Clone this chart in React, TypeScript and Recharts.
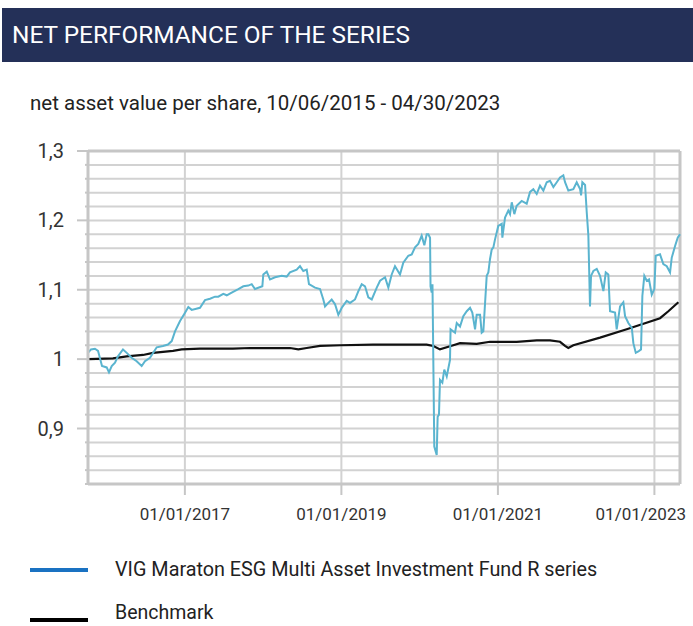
import { LineChart, Line, XAxis, YAxis, CartesianGrid, ReferenceLine } from 'recharts';

// fund NAV per share, x in decimal years
const fundYears = [
  2015.762, 2015.8, 2015.851, 2015.89, 2015.941, 2016.001, 2016.03, 2016.065, 2016.107, 2016.145,
  2016.209, 2016.257, 2016.32, 2016.384, 2016.448, 2016.49, 2016.554, 2016.64, 2016.72, 2016.784,
  2016.832, 2016.874, 2016.938, 2017.002, 2017.044, 2017.087, 2017.193, 2017.257, 2017.321, 2017.385,
  2017.427, 2017.491, 2017.535, 2017.598, 2017.683, 2017.747, 2017.811, 2017.854, 2017.896, 2017.99,
  2018.002, 2018.046, 2018.088, 2018.152, 2018.237, 2018.301, 2018.343, 2018.429, 2018.471, 2018.513,
  2018.557, 2018.586, 2018.663, 2018.727, 2018.769, 2018.791, 2018.833, 2018.876, 2018.919, 2018.961,
  2019.005, 2019.068, 2019.11, 2019.174, 2019.217, 2019.26, 2019.302, 2019.344, 2019.388, 2019.452,
  2019.494, 2019.558, 2019.6, 2019.643, 2019.685, 2019.749, 2019.791, 2019.855, 2019.899, 2019.941,
  2019.983, 2020.026, 2020.06, 2020.09, 2020.111, 2020.133, 2020.139, 2020.154, 2020.164, 2020.187,
  2020.218, 2020.23, 2020.247, 2020.26, 2020.29, 2020.315, 2020.346, 2020.388, 2020.395, 2020.452,
  2020.474, 2020.516, 2020.558, 2020.602, 2020.644, 2020.673, 2020.708, 2020.729, 2020.772, 2020.793,
  2020.814, 2020.835, 2020.857, 2020.878, 2020.899, 2020.921, 2020.942, 2020.964, 2021.005, 2021.049,
  2021.057, 2021.091, 2021.133, 2021.155, 2021.177, 2021.21, 2021.24, 2021.304, 2021.368, 2021.411,
  2021.453, 2021.496, 2021.538, 2021.581, 2021.624, 2021.666, 2021.709, 2021.752, 2021.794, 2021.836,
  2021.858, 2021.9, 2021.964, 2022.007, 2022.05, 2022.063, 2022.079, 2022.114, 2022.135, 2022.156,
  2022.177, 2022.19, 2022.22, 2022.263, 2022.305, 2022.348, 2022.378, 2022.411, 2022.433, 2022.497,
  2022.518, 2022.561, 2022.603, 2022.625, 2022.667, 2022.711, 2022.731, 2022.762, 2022.795, 2022.829,
  2022.846, 2022.871, 2022.902, 2022.931, 2022.966, 2022.999, 2023.017, 2023.072, 2023.114, 2023.158,
  2023.2, 2023.221, 2023.264, 2023.298, 2023.327,
];
const fundValues = [
  1.009, 1.014, 1.015, 1.012, 0.99, 0.988, 0.981, 0.99, 0.995, 1.004,
  1.014, 1.009, 1.002, 0.997, 0.99, 0.997, 1.002, 1.017, 1.019, 1.021,
  1.026, 1.04, 1.055, 1.067, 1.075, 1.071, 1.074, 1.085, 1.087, 1.09,
  1.09, 1.094, 1.092, 1.096, 1.101, 1.105, 1.106, 1.108, 1.101, 1.105,
  1.122, 1.126, 1.115, 1.118, 1.12, 1.119, 1.125, 1.129, 1.134, 1.127,
  1.129, 1.108, 1.103, 1.101, 1.086, 1.076, 1.081, 1.086, 1.079, 1.064,
  1.074, 1.084, 1.081, 1.086, 1.098, 1.108, 1.105, 1.089, 1.086, 1.103,
  1.113, 1.118, 1.103, 1.122, 1.134, 1.122, 1.139, 1.149, 1.151, 1.161,
  1.166, 1.178, 1.164, 1.18, 1.18, 1.175, 1.105, 1.096, 1.108, 0.874,
  0.862, 0.917, 0.92, 0.97, 0.966, 0.985, 0.975, 0.999, 1.043, 1.038,
  1.052, 1.047, 1.062, 1.069, 1.074, 1.067, 1.043, 1.064, 1.064, 1.038,
  1.04, 1.079, 1.12, 1.125, 1.144, 1.158, 1.161, 1.173, 1.192, 1.195,
  1.175, 1.204, 1.214, 1.209, 1.226, 1.209, 1.221, 1.228, 1.224, 1.241,
  1.245, 1.238, 1.25, 1.243, 1.255, 1.257, 1.248, 1.255, 1.262, 1.265,
  1.255, 1.243, 1.245, 1.255, 1.245, 1.236, 1.255, 1.251, 1.212, 1.178,
  1.076, 1.12, 1.127, 1.13, 1.12, 1.098, 1.125, 1.122, 1.069, 1.067,
  1.043, 1.076, 1.082, 1.062, 1.052, 1.045, 1.023, 1.009, 1.011, 1.014,
  1.091, 1.12, 1.113, 1.115, 1.093, 1.101, 1.149, 1.151, 1.137, 1.134,
  1.125, 1.146, 1.163, 1.175, 1.18,
];

const benchYears = [
  2015.762, 2016.081, 2016.257, 2016.465, 2016.593, 2016.848, 2016.959, 2017.193, 2017.615, 2017.832,
  2018.343, 2018.45, 2018.557, 2018.727, 2018.983, 2019.404, 2020.09, 2020.175, 2020.26, 2020.43,
  2020.516, 2020.729, 2020.899, 2021.24, 2021.496, 2021.666, 2021.794, 2021.858, 2021.9, 2021.964,
  2022.305, 2022.646, 2023.072, 2023.178, 2023.306,
];
const benchValues = [
  1.0, 1.001, 1.004, 1.006, 1.009, 1.012, 1.014, 1.015, 1.015, 1.016,
  1.016, 1.014, 1.016, 1.019, 1.02, 1.021, 1.021, 1.019, 1.014, 1.02,
  1.023, 1.022, 1.025, 1.025, 1.027, 1.027, 1.025, 1.019, 1.016, 1.02,
  1.031, 1.043, 1.059, 1.069, 1.082,
];

const xTicks = [2017, 2019, 2021, 2023];
const xTickLabels = ['01/01/2017', '01/01/2019', '01/01/2021', '01/01/2023'];
const yTicks = [
  0.82, 0.84, 0.86, 0.88, 0.9, 0.92, 0.94, 0.96, 0.98, 1.0, 1.02, 1.04, 1.06,
  1.08, 1.1, 1.12, 1.14, 1.16, 1.18, 1.2, 1.22, 1.24, 1.26, 1.28, 1.3,
];
const yMajorTicks = [0.9, 1.0, 1.1, 1.2, 1.3];
const yMajorLabels = ['0,9', '1', '1,1', '1,2', '1,3'];

const X_MIN = 2015.762;
const X_MAX = 2023.327;
const FONT = 'Roboto, "Noto Sans", sans-serif';
const GRID = '#d2d2d2';
const AXIS = '#c6c6c6';

const fundData = fundYears.map((x, i) => ({ x, v: fundValues[i] }));
const benchData = benchYears.map((x, i) => ({ x, v: benchValues[i] }));

const YTick = (props: any) => {
  const { y, payload } = props;
  const idx = yMajorTicks.findIndex((t) => Math.abs(t - payload.value) < 1e-6);
  const major = idx >= 0;
  return (
    <g>
      <line x1={major ? 77 : 85} x2={88} y1={y} y2={y} stroke={AXIS} strokeWidth={2} />
      {major && (
        <text x={64} y={y} dy="0.35em" textAnchor="end" fontSize={20} fill="#333" fontFamily={FONT}>
          {yMajorLabels[idx]}
        </text>
      )}
    </g>
  );
};

// last label is kept inside the chart's right edge
const XTick = (props: any) => {
  const { x, y, payload } = props;
  const idx = xTicks.indexOf(payload.value);
  const last = idx === xTicks.length - 1;
  return (
    <text
      x={last ? 686 : x}
      y={y}
      dy="0.71em"
      textAnchor={last ? 'end' : 'middle'}
      fontSize={17}
      fill="#333"
      fontFamily={FONT}
    >
      {xTickLabels[idx]}
    </text>
  );
};

export default function App() {
  return (
    <div style={{ position: 'absolute', left: 0, top: 0, width: 693, height: 626, background: '#fff', fontFamily: FONT }}>
      <div
        style={{
          position: 'absolute', left: 2, top: 8, width: 691, height: 54, background: '#243058',
          color: '#fff', fontSize: 24.4, lineHeight: '54px', paddingLeft: 10, boxSizing: 'border-box',
        }}
      >
        NET PERFORMANCE OF THE SERIES
      </div>
      <div style={{ position: 'absolute', left: 30, top: 90, fontSize: 20.5, color: '#222', lineHeight: '26px' }}>
        net asset value per share, 10/06/2015 - 04/30/2023
      </div>
      <div style={{ position: 'absolute', left: 0, top: 0 }}>
        <LineChart width={693} height={540} margin={{ top: 151, right: 13, bottom: 6, left: 0 }}>
          <CartesianGrid stroke={GRID} strokeWidth={2} />
          <XAxis
            type="number"
            dataKey="x"
            domain={[X_MIN, X_MAX]}
            ticks={xTicks}
            height={50}
            tickSize={11}
            tickMargin={13}
            tickLine={{ stroke: AXIS, strokeWidth: 2 }}
            axisLine={{ stroke: AXIS, strokeWidth: 3 }}
            tick={<XTick />}
          />
          <YAxis
            type="number"
            domain={[0.82, 1.3]}
            ticks={yTicks}
            width={88}
            tickLine={false}
            axisLine={{ stroke: AXIS, strokeWidth: 3 }}
            tick={<YTick />}
            interval={0}
          />
          <ReferenceLine x={X_MAX} stroke={AXIS} strokeWidth={3} />
          <ReferenceLine y={1.3} stroke={AXIS} strokeWidth={3} />
          <Line
            data={benchData}
            dataKey="v"
            type="linear"
            stroke="#111"
            strokeWidth={2.2}
            dot={false}
            isAnimationActive={false}
          />
          <Line
            data={fundData}
            dataKey="v"
            type="linear"
            stroke="#5ab4cf"
            strokeWidth={2}
            dot={false}
            isAnimationActive={false}
          />
        </LineChart>
      </div>
      <div style={{ position: 'absolute', left: 30, top: 568, width: 58, height: 4, background: '#1a72c2' }} />
      <div style={{ position: 'absolute', left: 115, top: 558, fontSize: 19.8, color: '#222', lineHeight: '24px' }}>
        VIG Maraton ESG Multi Asset Investment Fund R series
      </div>
      <div style={{ position: 'absolute', left: 30, top: 618, width: 58, height: 4, background: '#000' }} />
      <div style={{ position: 'absolute', left: 115, top: 604, fontSize: 19.5, color: '#222', lineHeight: '18px' }}>
        Benchmark
      </div>
    </div>
  );
}
